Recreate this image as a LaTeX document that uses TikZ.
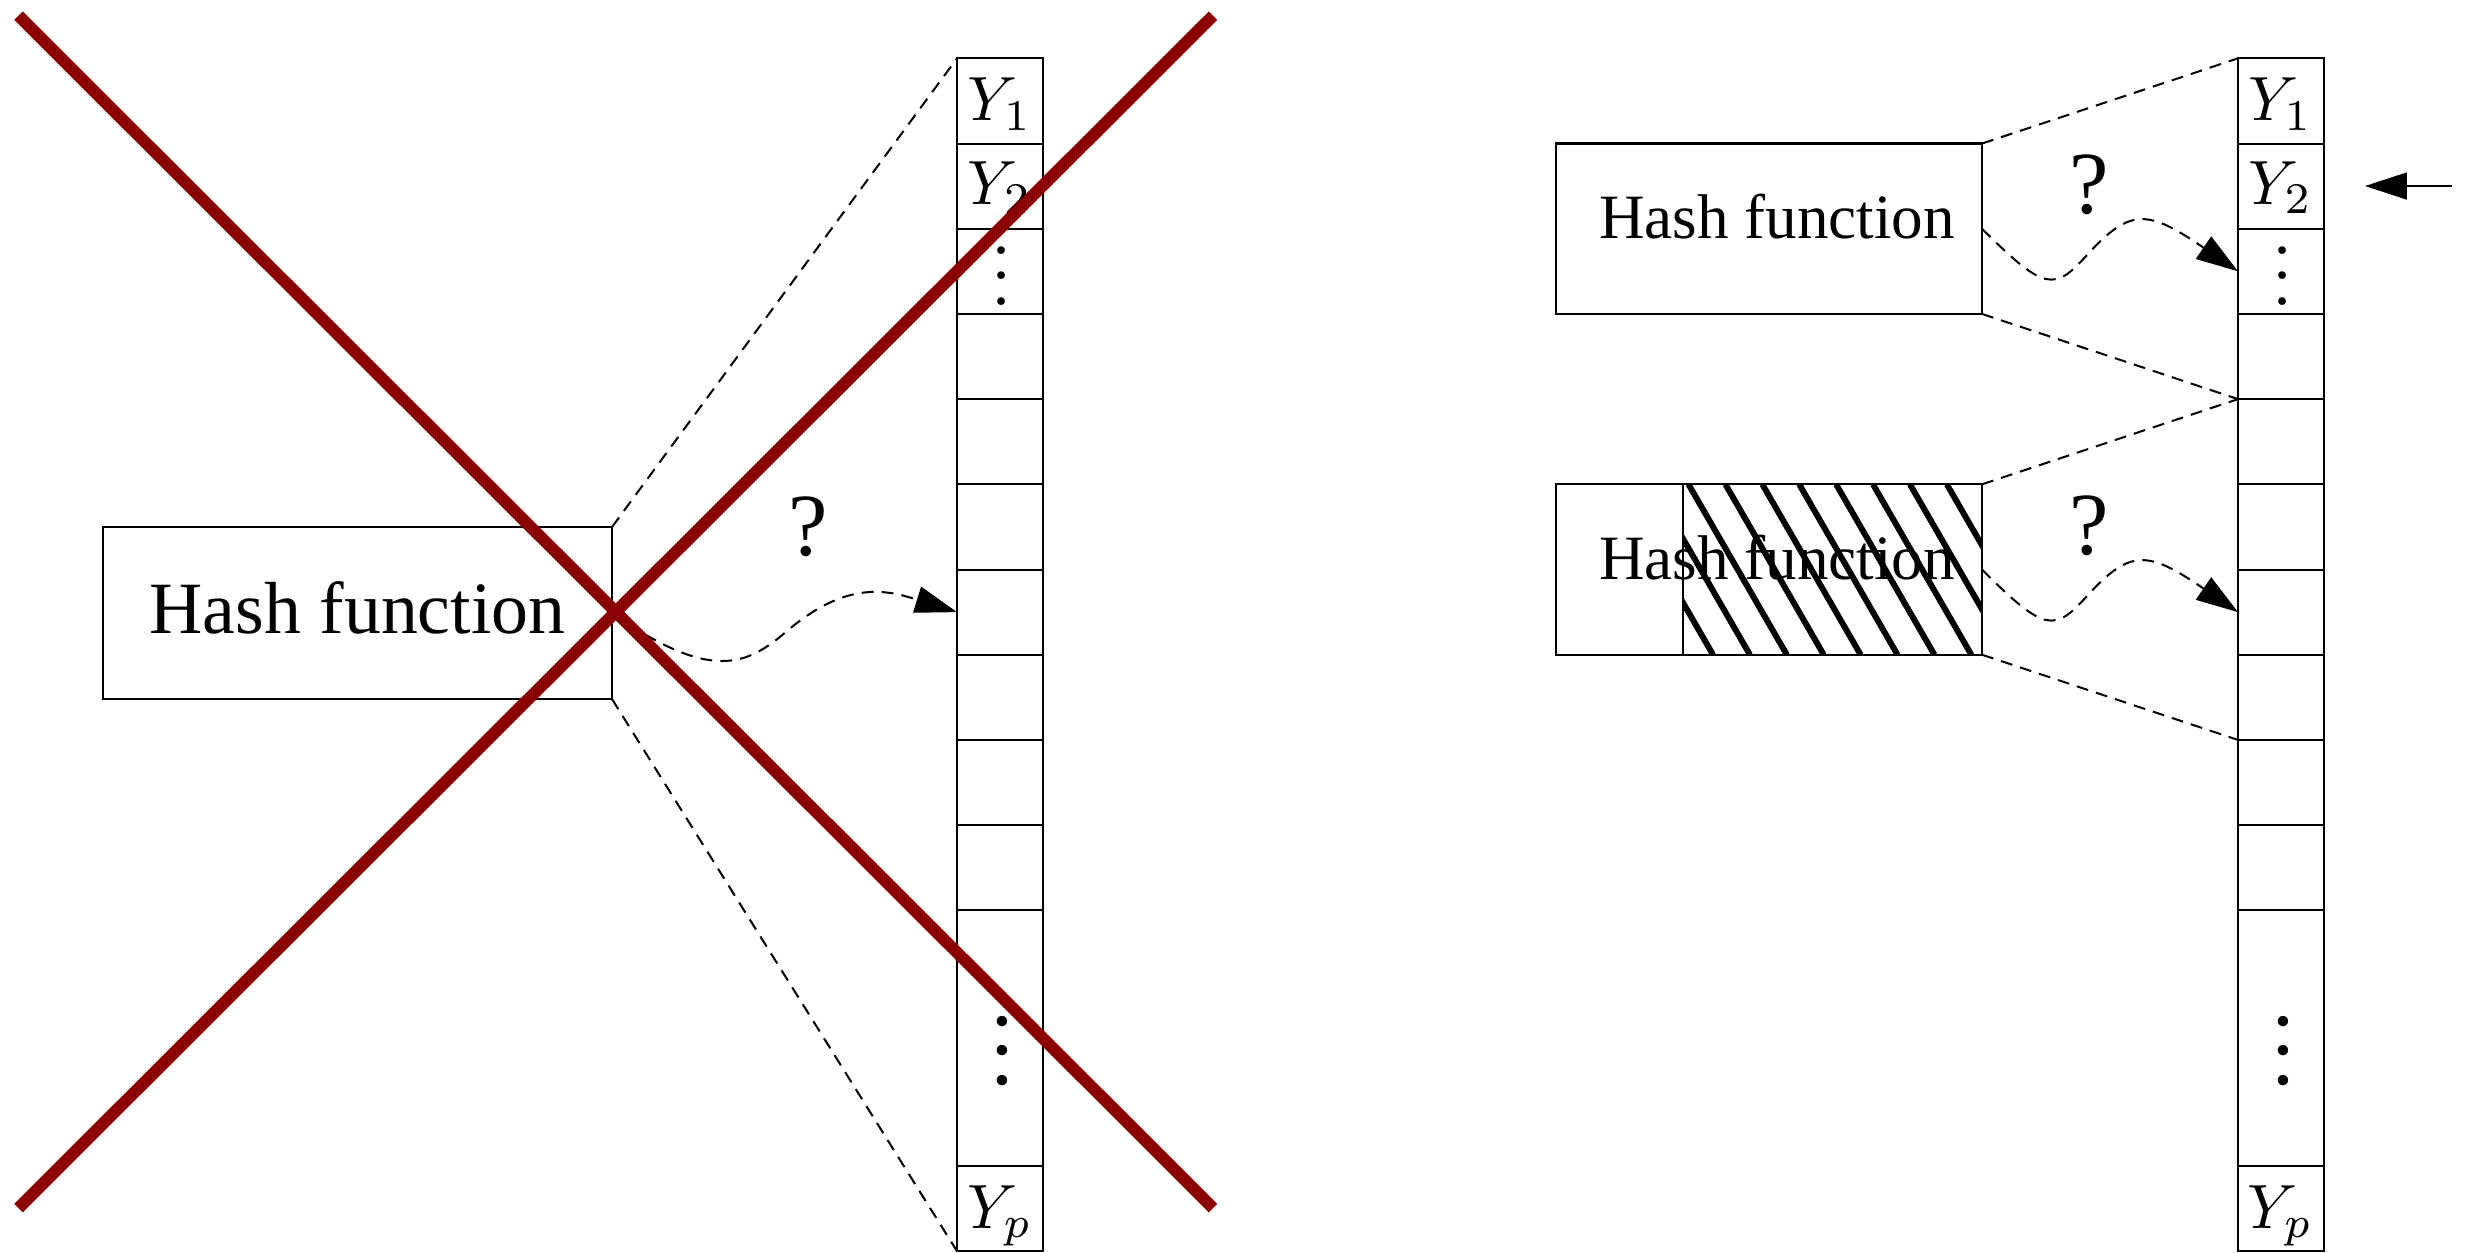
\documentclass[tikz,border=0pt]{standalone}
\usepackage{fontspec}
\setmainfont{Liberation Serif}
\usetikzlibrary{arrows.meta}
\definecolor{crossred}{RGB}{139,0,0}
\newcommand{\threedots}[2]{\vbox{\fontsize{#1}{#2}\selectfont\baselineskip=#2\lineskiplimit=-20pt\lineskip=0pt\hbox{.}\hbox{.}\hbox{.}}}
\begin{document}
\begin{tikzpicture}[x=0.16pt,y=-0.16pt,
  cell/.style={draw, line width=0.32pt, inner sep=0pt, outer sep=0pt, minimum width=13.68pt, minimum height=13.632pt, anchor=north west},
  bigcell/.style={cell, minimum height=40.896pt},
  hashbox/.style={draw, line width=0.34pt, inner sep=0pt, outer sep=0pt, anchor=north west},
  lab/.style={inner sep=0pt, outer sep=0pt, anchor=base},
  dotlab/.style={inner sep=0pt, outer sep=0pt, anchor=center},
  guide/.style={dash pattern=on 1.9pt off 1.3pt, line width=0.32pt},
  hop/.style={guide, -{Triangle[length=6.7pt,width=4.3pt]}},
  hatchline/.style={line width=0.95pt},
  crossline/.style={line width=1.92pt, crossred, line cap=butt}]
\useasboundingbox (0,0) rectangle (2471,1252);
% ---------- columns ----------
\foreach \i in {1,...,10} {
  \node[cell] (L\i) at (957,{58.3+85.2*(\i-1)}) {};
  \node[cell] (R\i) at (2238,{58.3+85.2*(\i-1)}) {};
}
\node[bigcell] (L11) at (957,910.3) {};
\node[cell] (L12) at (957,1165.9) {};
\node[bigcell] (R11) at (2238,910.3) {};
\node[cell] (R12) at (2238,1165.9) {};
% labels in cells
\node[lab] (ly1) at (1000,120.7) {\fontsize{10.3pt}{12pt}\selectfont$Y_1$};
\node[lab] (ly2) at (1000,204.5) {\fontsize{10.3pt}{12pt}\selectfont$Y_2$};
\node[lab] (lyp) at (1000,1228) {\fontsize{10.3pt}{12pt}\selectfont$Y_p$};
\node[lab] (ry1) at (2280.5,120.7) {\fontsize{10.3pt}{12pt}\selectfont$Y_1$};
\node[lab] (ry2) at (2280.5,204.5) {\fontsize{10.3pt}{12pt}\selectfont$Y_2$};
\node[lab] (ryp) at (2280.5,1228) {\fontsize{10.3pt}{12pt}\selectfont$Y_p$};
\node[dotlab] (ld1) at (1002,276) {\threedots{10.3pt}{4.13pt}};
\node[dotlab] (ld2) at (1002.5,1051) {\threedots{14pt}{4.69pt}};
\node[dotlab] (rd1) at (2282.5,276) {\threedots{10.3pt}{4.13pt}};
\node[dotlab] (rd2) at (2283,1051) {\threedots{14pt}{4.69pt}};
% ---------- hash boxes ----------
\node[hashbox, minimum width=81.44pt, minimum height=27.52pt] (hl) at (103,527) {};
\node[lab] (tl) at (357.5,633.5) {\fontsize{11.8pt}{14pt}\selectfont Hash function};
\node[hashbox, minimum width=68.16pt, minimum height=27.264pt] (ht) at (1556,143.5) {};
\node[lab] (tt) at (1777,238) {\fontsize{10.1pt}{12pt}\selectfont Hash function};
\node[hashbox, minimum width=68.16pt, minimum height=27.264pt] (hb) at (1556,484.3) {};
\node[lab] (tb) at (1777,579) {\fontsize{10.1pt}{12pt}\selectfont Hash function};
\node[hashbox, minimum width=47.84pt, minimum height=27.264pt] (hatch) at (1683,484.3) {};
\begin{scope}
  \clip (hatch.south west) rectangle (hatch.north east);
  \foreach \k in {-4,...,8} {
    \draw[hatchline] ({1688.5+36.9*\k},484.3) -- ++(98.3,170.4);
  }
\end{scope}
% question marks
\node[lab] (ql) at (808,555) {\fontsize{14.2pt}{17pt}\selectfont ?};
\node[lab] (qt) at (2089,213) {\fontsize{14.2pt}{17pt}\selectfont ?};
\node[lab] (qb) at (2089,554) {\fontsize{14.2pt}{17pt}\selectfont ?};
% ---------- dashed guides ----------
\draw[guide] (hl.north east) -- (L1.north west);
\draw[guide] (hl.south east) -- (L12.south west);
\draw[guide] (ht.north east) -- (R1.north west);
\draw[guide] (ht.south east) -- (R5.north west);
\draw[guide] (hb.north east) -- (R5.north west);
\draw[guide] (hb.south east) -- (R9.north west);
% ---------- wavy arrows ----------
\draw[hop] (hl.east) .. controls (711.9,683) and (747.1,665) .. (787,631)
  .. controls (849,578.3) and (889.7,591.1) .. (L7.west);
\draw[hop] (ht.east) .. controls (2045.3,291.9) and (2054.4,290.8) .. (2087,255)
  .. controls (2130.4,207.3) and (2147.7,209.4) .. (R3.west);
\draw[hop] (hb.east) .. controls (2045.3,632.9) and (2054.4,631.8) .. (2087,596)
  .. controls (2130.4,548.3) and (2147.7,550.4) .. (R7.west);
% side arrow
\coordinate (rtail) at (2452,186);
\coordinate (rtip) at (2365,186);
\draw[line width=0.32pt, -{Triangle[length=6.7pt,width=4.3pt]}] (rtail) -- (rtip);
% ---------- red cross ----------
\coordinate (x1a) at (18.5,15.7);
\coordinate (x1b) at (1213,1208);
\coordinate (x2a) at (18.5,1208);
\coordinate (x2b) at (1213,15.7);
\draw[crossline] (x1a) -- (x1b);
\draw[crossline] (x2a) -- (x2b);
\end{tikzpicture}
\end{document}
